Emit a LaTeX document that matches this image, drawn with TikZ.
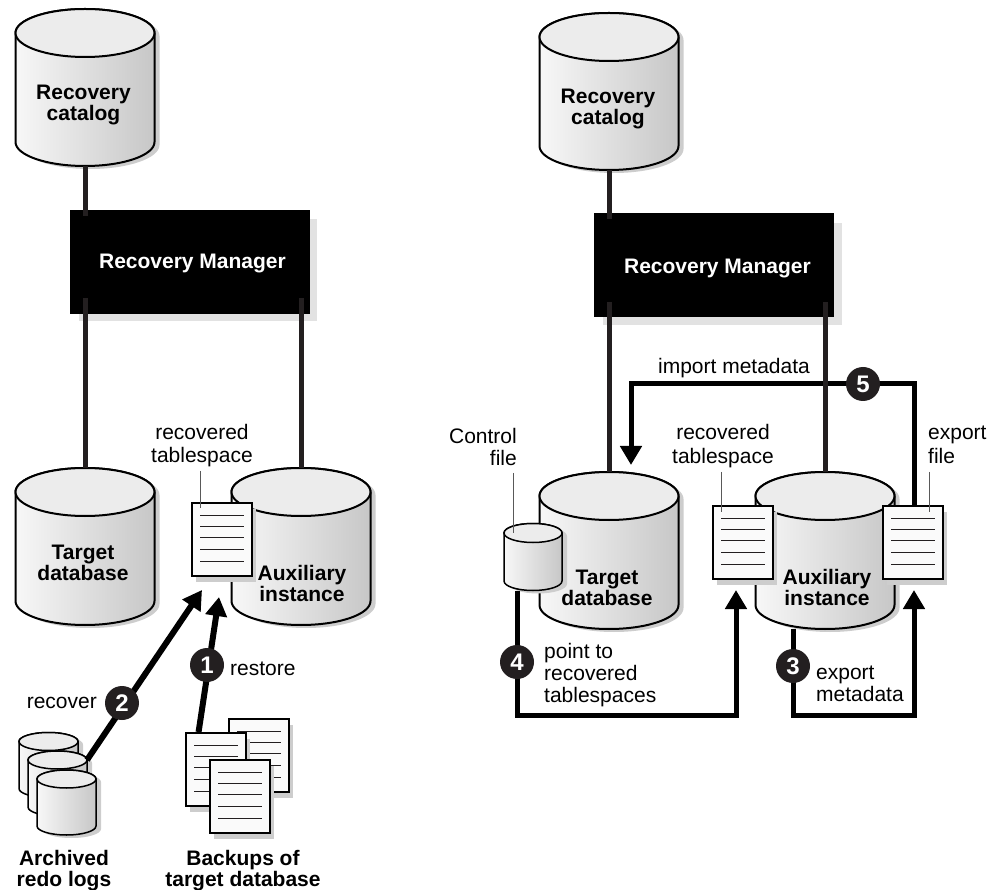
\documentclass[tikz,border=0pt]{standalone}
\usepackage{fontspec}
\setmainfont{Liberation Sans}
\usetikzlibrary{arrows.meta,calc}
\definecolor{ink}{HTML}{231F20}
\definecolor{topgray}{HTML}{ECECEC}
\definecolor{shadegray}{HTML}{CDCDCD}
\definecolor{boxshade}{HTML}{E2E2E2}
\tikzset{
  lbl/.style={inner sep=0pt,font=\fontsize{21}{21.6}\selectfont,text=black,anchor=base},
  lblc/.style={lbl,align=center},
  lbll/.style={lbl,align=left,anchor=base west},
  lblr/.style={lbl,align=right,anchor=base east},
  blbl/.style={lbl,align=center,font=\fontsize{21}{21}\selectfont\bfseries},
  rman/.style={draw=none,fill=black,minimum width=240pt,minimum height=104pt,inner sep=0pt,text=white,font=\fontsize{21}{21}\selectfont\bfseries},
  conn/.style={draw=ink,line width=5pt},
  flow/.style={draw=black,line width=5pt,miter limit=10,-{Triangle[length=19pt,width=21pt]}},
  flowb/.style={flow,line width=6pt},
  badge/.style={circle,fill=ink,minimum size=34pt,inner sep=0pt,text=white,font=\fontsize{24}{24}\selectfont\bfseries},
  leader/.style={draw=black!65,line width=0.8pt},
  sheet/.style={draw=black,line width=1.7pt,fill=white!98!black,minimum width=60pt,minimum height=73pt,inner sep=0pt},
}
% name, cx, top-centre y, rx, ry, distance of the centres, line width
\newcommand{\drum}[7]{%
  \fill[shadegray] (#2-#4+5,#3+3) -- (#2-#4+5,#3+#6+3) arc[start angle=180,end angle=360,x radius=#4pt,y radius=#5pt] -- (#2+#4+5,#3+3) arc[start angle=0,end angle=180,x radius=#4pt,y radius=#5pt] -- cycle;
  \path[draw=black,line width=#7pt,left color=white!97!black,middle color=white!90!black,right color=black!22] (#2-#4,#3) -- (#2-#4,#3+#6) arc[start angle=180,end angle=360,x radius=#4pt,y radius=#5pt] -- (#2+#4,#3) arc[start angle=0,end angle=180,x radius=#4pt,y radius=#5pt] -- cycle;
  \draw[line width=#7pt,fill=topgray] (#2,#3) ellipse[x radius=#4pt,y radius=#5pt];
  \node[inner sep=0pt,minimum width={2*#4},minimum height={#6+2*#5}] (#1) at (#2,#3+#6/2) {};
  \coordinate (#1-r) at (#2+#4,#3);
}
% name, left, top
\newcommand{\docsheet}[3]{%
  \fill[shadegray] (#2+4.5,#3+7) rectangle (#2+64.5,#3+80);
  \node[sheet,anchor=north west] (#1) at (#2,#3) {};
  \foreach \dy in {13,24,35,47,59} \draw[ink,line width=1pt] (#2+9,#3+\dy) -- (#2+53,#3+\dy);
}
\begin{document}
\begin{tikzpicture}[x=1pt,y=-1pt]
\useasboundingbox (0,0) rectangle (991,890);
% ---------- left panel
\drum{catL}{85}{33}{69.5}{24}{109}{2}
\fill[boxshade] (79,219) rectangle (317,321);
\node[rman] (rmL) at (190,262) {};
\node[lbl,text=white,font=\fontsize{21}{21}\selectfont\bfseries] (rmLt) at (192.5,269) {Recovery Manager};
\drum{tgtL}{85}{492}{69.5}{24}{109}{2}
\drum{auxL}{301}{492}{69.5}{24}{109}{2}
\draw[conn] (catL.south) -- ([yshift=-6pt]catL.south |- rmL.north);
\draw[conn] (tgtL.north) -- ([yshift=16pt]tgtL.north |- rmL.south);
\draw[conn] (auxL.north) -- ([yshift=16pt]auxL.north |- rmL.south);
\docsheet{docRecL}{191}{502}
\node[lblc] (tRecL) at (202,463) {recovered\\[2.4pt]tablespace};
\coordinate (leadLa) at (200,471);
\coordinate (leadLb) at (200,508);
\draw[leader] (leadLa) -- (leadLb);
\node[blbl] (tCatL) at (83.5,121) {Recovery\\catalog};
\node[blbl] (tTgtL) at (83,580) {Target\\database};
\node[blbl] (tAuxL) at (302,601) {Auxiliary\\instance};
% logs and backups
\drum{logA}{48.5}{741.5}{29.5}{9}{47}{1.5}
\drum{logB}{57.5}{760}{29.5}{9}{47}{1.5}
\coordinate (tip2) at (202,590);
\draw[flowb] (logB-r) -- (tip2);
\drum{logC}{66.5}{779}{29.5}{9}{47}{1.5}
\docsheet{bakA}{228}{718}
\docsheet{bakB}{185}{732}
\docsheet{bakC}{209}{759}
\coordinate (tip1) at (219,597);
\draw[flowb] ($(bakB.north west)!0.22!(bakB.north east)$) -- (tip1);
\node[badge] (b1) at (207,665) {1};
\node[badge] (b2) at (122,703) {2};
\node[lbl,anchor=base west] (tRestore) at (230,675) {restore};
\node[lbl,anchor=base east] (tRecover) at (97,708) {recover};
\node[blbl] (tLogs) at (64,886) {Archived\\redo logs};
\node[blbl] (tBak) at (243,886) {Backups of\\target database};
% ---------- right panel
\drum{catR}{609}{37}{69.5}{24}{109}{2}
\fill[boxshade] (603,223) rectangle (842,325);
\node[rman] (rmR) at (714,265.5) {};
\node[lbl,text=white,font=\fontsize{21}{21}\selectfont\bfseries] (rmRt) at (717.5,274) {Recovery Manager};
\drum{tgtR}{609}{496}{69.5}{24}{109}{2}
\drum{auxR}{825}{496}{69.5}{24}{109}{2}
\draw[conn] (catR.south) -- ([yshift=-6pt]catR.south |- rmR.north);
\draw[conn] (tgtR.north) -- ([yshift=16pt]tgtR.north |- rmR.south);
\drum{ctlR}{533}{533}{29}{9.5}{48}{1.5}
\docsheet{docRecR}{712}{505}
\docsheet{docExpR}{882}{505}
\coordinate (tip5) at (631,465);
\coordinate (tip4) at (736,590);
\coordinate (tip3) at (914,590);
\coordinate (p4) at (517,715);
\coordinate (p3) at (793,715);
\draw[flow] (docExpR.north -| tip3) -- ++(0,-121) -| (tip5);
\draw[conn] (auxR.north) -- ([yshift=16pt]auxR.north |- rmR.south);
\draw[flow] (ctlR.south -| p4) -- (p4) -| (tip4);
\draw[flow] (auxR.south -| p3) -- (p3) -| (tip3);
\node[badge] (b5) at (863,384) {5};
\node[badge] (b4) at (517,662) {4};
\node[badge] (b3) at (793,666) {3};
\node[lblc] (tRecR) at (723,464) {recovered\\[2.4pt]tablespace};
\node[lbll] (tExpR) at (928,464) {export\\[2.4pt]file};
\node[lblr] (tCtl) at (517,465) {Control\\file};
\node[lbl] (tImp) at (734,374) {import metadata};
\node[lbll] (tPoint) at (544,702) {point to\\recovered\\tablespaces};
\node[lbll] (tExpM) at (816,701) {export\\metadata};
\coordinate (leadCa) at (513,473);
\coordinate (leadCb) at (513,533);
\coordinate (leadDa) at (721,472);
\coordinate (leadDb) at (721,512);
\coordinate (leadEa) at (929,472);
\coordinate (leadEb) at (929,512);
\draw[leader] (leadCa) -- (leadCb);
\draw[leader] (leadDa) -- (leadDb);
\draw[leader] (leadEa) -- (leadEb);
\node[blbl] (tCatR) at (608,125) {Recovery\\catalog};
\node[blbl] (tTgtR) at (607,605) {Target\\database};
\node[blbl] (tAuxR) at (827,605) {Auxiliary\\instance};
\end{tikzpicture}
\end{document}
